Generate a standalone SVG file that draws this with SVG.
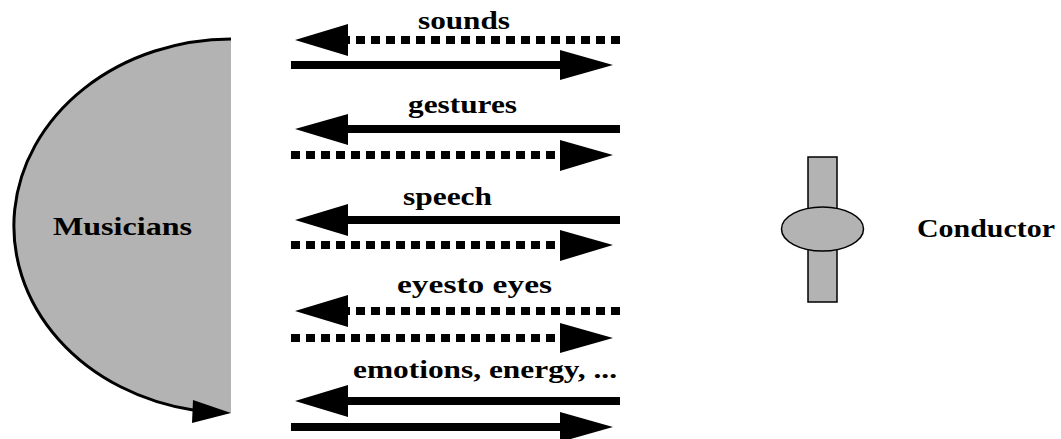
<svg xmlns="http://www.w3.org/2000/svg" width="1061" height="439" viewBox="0 0 1061 439">
<style>
.lbl{font-family:'Liberation Serif','DejaVu Serif','Times New Roman',serif;font-weight:700;font-size:25px;fill:#000}
.solid{stroke:#000;stroke-width:8;fill:none}
.dash{stroke:#000;stroke-width:8;fill:none;stroke-dasharray:9 6}
.head{fill:#000}
.gray{fill:#b3b3b3}
</style>
<rect width="1061" height="439" fill="#fff"/>
<g id="musicians">
<path class="gray" d="M231,39 A218,187 0 0 0 231,413 Z"/>
<path d="M231,39 A218,187 0 0 0 193,410" fill="none" stroke="#000" stroke-width="3"/>
<polygon class="head" points="193,400 231,413 192,423"/>
<text class="lbl" font-family="Liberation Serif, DejaVu Serif, serif" x="53" y="235" textLength="139" lengthAdjust="spacingAndGlyphs">Musicians</text>
</g>
<g id="conductor">
<rect x="808" y="157" width="29" height="145" fill="#b3b3b3" stroke="#000" stroke-width="1.5"/>
<ellipse cx="822.5" cy="229" rx="41" ry="22" fill="#b3b3b3" stroke="#000" stroke-width="1.5"/>
<text class="lbl" font-family="Liberation Serif, DejaVu Serif, serif" x="917" y="237" textLength="138" lengthAdjust="spacingAndGlyphs">Conductor</text>
</g>
<g id="connectors">
<path class="dash" d="M620,40 H348"/>
<polygon class="head" points="295,40 348,24 348,56"/>
<path class="solid" d="M291,65 H560"/>
<polygon class="head" points="613,65 560,50 560,80"/>
<text class="lbl" font-family="Liberation Serif, DejaVu Serif, serif" x="418" y="29" textLength="92" lengthAdjust="spacingAndGlyphs">sounds</text>
<path class="solid" d="M620,129 H348"/>
<polygon class="head" points="295,129 348,114 348,145"/>
<path class="dash" d="M291,155 H560"/>
<polygon class="head" points="613,155 560,140 560,171"/>
<text class="lbl" font-family="Liberation Serif, DejaVu Serif, serif" x="408" y="113" textLength="109" lengthAdjust="spacingAndGlyphs">gestures</text>
<path class="solid" d="M620,220 H348"/>
<polygon class="head" points="295,220 348,204 348,236"/>
<path class="dash" d="M291,245 H560"/>
<polygon class="head" points="613,245 560,230 560,261"/>
<text class="lbl" font-family="Liberation Serif, DejaVu Serif, serif" x="403" y="205" textLength="89" lengthAdjust="spacingAndGlyphs">speech</text>
<path class="dash" d="M620,311 H348"/>
<polygon class="head" points="295,311 348,295 348,327"/>
<path class="dash" d="M291,338 H560"/>
<polygon class="head" points="613,338 560,323 560,353"/>
<text class="lbl" font-family="Liberation Serif, DejaVu Serif, serif" x="397" y="293" textLength="155" lengthAdjust="spacingAndGlyphs">eyesto eyes</text>
<path class="solid" d="M620,401 H348"/>
<polygon class="head" points="295,401 348,385 348,417"/>
<path class="solid" d="M291,427 H560"/>
<polygon class="head" points="613,427 560,412 560,442"/>
<text class="lbl" font-family="Liberation Serif, DejaVu Serif, serif" x="353" y="378" textLength="264" lengthAdjust="spacingAndGlyphs">emotions, energy, ...</text>
</g>
</svg>
